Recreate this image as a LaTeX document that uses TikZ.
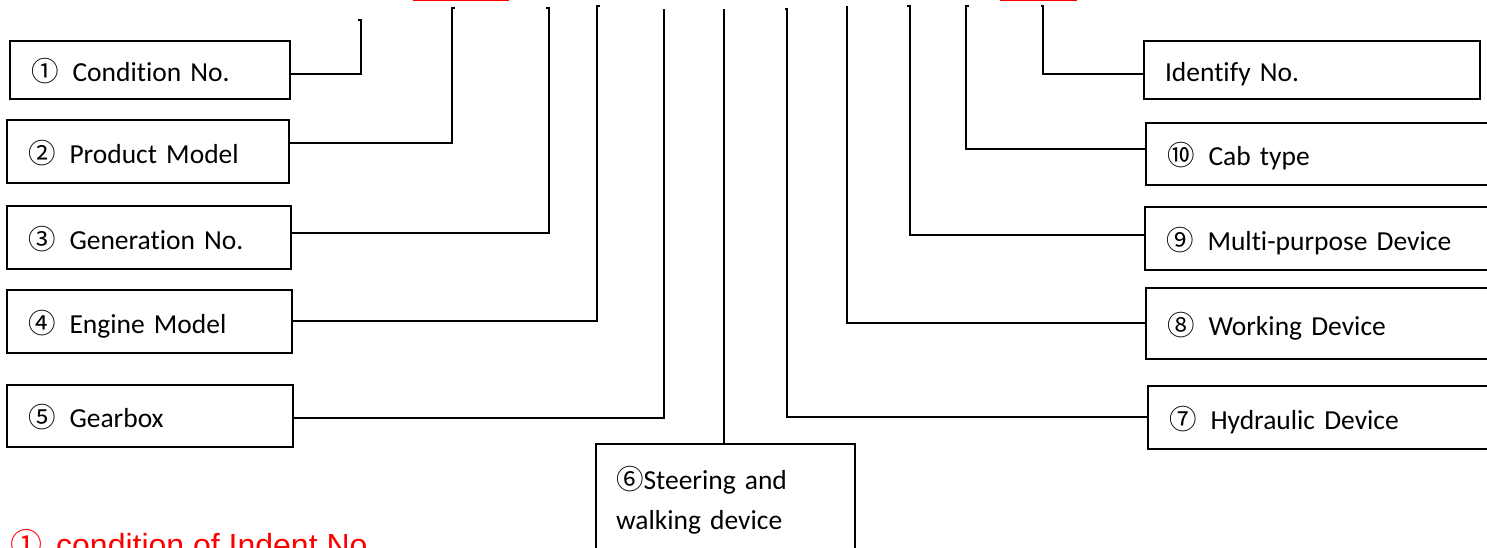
\documentclass[tikz,border=0pt]{standalone}
\usepackage{fontspec}
\setmainfont{Carlito}[Ligatures=NoCommon]
\newfontfamily\cjk{Noto Sans CJK SC}
\newfontfamily\arialf{Liberation Sans}
\newcommand\cnum[1]{{\cjk #1}\hspace{14pt}}
\begin{document}
\begin{tikzpicture}[x=1pt,y=-1pt,
  box/.style={draw=black, line width=1.9pt, rectangle, inner xsep=21pt, inner ysep=0pt,
    align=left, text height=23pt, text depth=0pt, font=\fontsize{27.5}{40}\selectfont},
  conn/.style={draw=black, line width=1.9pt},
  redline/.style={draw=red, line width=1.6pt}]
\clip (0,0) rectangle (1487,547);
\fill[white] (0,0) rectangle (1487,547);
% top end points
\coordinate (t1) at (361,20);
\coordinate (t2) at (452,8);
\coordinate (t3) at (549,8);
\coordinate (t4) at (597,6);
\coordinate (t5) at (664,9);
\coordinate (t6) at (724,9);
\coordinate (t7) at (787,9);
\coordinate (t8) at (847,6);
\coordinate (t9) at (910,6);
\coordinate (t10) at (966,6);
\coordinate (t11) at (1043,6);
% left boxes
\node[box, minimum width=280pt, minimum height=58pt, text width=238pt] (c1) at (150,70) {\cnum{①}Condition No.};
\node[box, minimum width=282pt, minimum height=63pt, text width=240pt] (c2) at (148,151.5) {\cnum{②}Product Model};
\node[box, minimum width=284pt, minimum height=63pt, text width=242pt] (c3) at (149,237.5) {\cnum{③}Generation No.};
\node[box, minimum width=285pt, minimum height=63pt, text width=243pt] (c4) at (149.5,321.5) {\cnum{④}Engine Model};
\node[box, minimum width=286pt, minimum height=62pt, text width=244pt] (c5) at (150,416) {\cnum{⑤}Gearbox};
% bottom middle box
\node[draw=black, line width=1.9pt, rectangle, inner xsep=20pt, inner ysep=0pt, align=left,
  font=\fontsize{27.5}{40}\selectfont, minimum width=259pt, minimum height=112pt, text width=219pt]
  (c6) at (725.5,500) {{\cjk ⑥}Steering and\\walking device};
% right boxes
\node[box, minimum width=352pt, minimum height=63pt, text width=310pt] (c7) at (1324,417.5) {\cnum{⑦}Hydraulic Device};
\node[box, minimum width=354pt, minimum height=71pt, text width=312pt] (c8) at (1323,323.5) {\cnum{⑧}Working Device};
\node[box, minimum width=355pt, minimum height=63pt, text width=313pt] (c9) at (1322.5,238.5) {\cnum{⑨}Multi-purpose Device};
\node[box, minimum width=354pt, minimum height=62pt, text width=312pt] (c10) at (1323,154) {\cnum{⑩}Cab type};
\node[box, minimum width=336pt, minimum height=58pt, text width=294pt] (c11) at (1312,70) {Identify No.};
% connectors
\draw[conn] ([yshift=-4pt]c1.east) -| (t1) -- ++(-3,0);
\draw[conn] ([yshift=8.5pt]c2.east) -| (t2) -- ++(3,0);
\draw[conn] ([yshift=4.5pt]c3.east) -| (t3) -- ++(-3,0);
\draw[conn] ([yshift=0.5pt]c4.east) -| (t4) -- ++(3,0);
\draw[conn] ([yshift=-2pt]c5.east) -| (t5);
\draw[conn] (t6 |- c6.north) -- (t6);
\draw[conn] ([yshift=0.5pt]c7.west) -| (t7) -- ++(-2,0);
\draw[conn] ([yshift=0.5pt]c8.west) -| (t8);
\draw[conn] ([yshift=3.5pt]c9.west) -| (t9) -- ++(-3,0);
\draw[conn] ([yshift=5pt]c10.west) -| (t10) -- ++(3,0);
\draw[conn] ([yshift=-4pt]c11.west) -| (t11) -- ++(-2,0);
% red marks at the top edge
\draw[redline] (413,0.5) -- (509,0.5);
\draw[redline] (1000,0.5) -- (1077,0.5);
% red note
\node[anchor=base west, inner sep=0pt, text=red, font=\arialf\fontsize{32}{38}\selectfont] (note) at (10,556)
  {{\cjk ①}\hspace{14pt}condition of Indent No};
\end{tikzpicture}
\end{document}
